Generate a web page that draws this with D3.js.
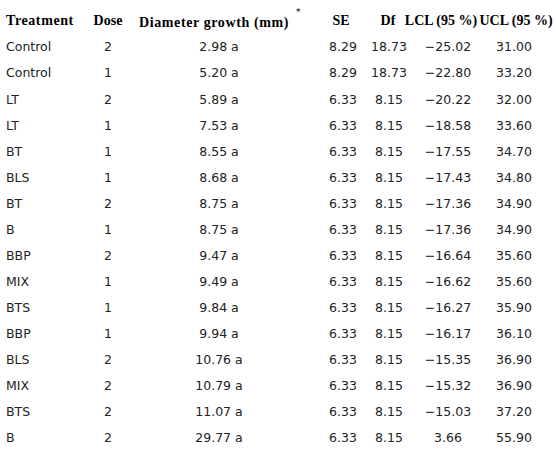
<!DOCTYPE html>
<html><head><meta charset="utf-8">
<script src="https://cdn.jsdelivr.net/npm/d3@7"></script>
<style>body{margin:0;background:#fff}</style>
</head><body>
<svg width="556" height="456"></svg>
<script>
'use strict';

const treatments = ["Control","Control","LT","LT","BT","BLS","BT","B","BBP","MIX","BTS","BBP","BLS","MIX","BTS","B"];
const doses = [2,1,2,1,1,1,2,1,2,1,1,1,2,2,2,2];
const growth = ["2.98","5.20","5.89","7.53","8.55","8.68","8.75","8.75","9.47","9.49","9.84","9.94","10.76","10.79","11.07","29.77"];
const groups = ["a","a","a","a","a","a","a","a","a","a","a","a","a","a","a","a"];
const se = ["8.29","8.29","6.33","6.33","6.33","6.33","6.33","6.33","6.33","6.33","6.33","6.33","6.33","6.33","6.33","6.33"];
const df = ["18.73","18.73","8.15","8.15","8.15","8.15","8.15","8.15","8.15","8.15","8.15","8.15","8.15","8.15","8.15","8.15"];
const lcl = ["\u221225.02","\u221222.80","\u221220.22","\u221218.58","\u221217.55","\u221217.43","\u221217.36","\u221217.36","\u221216.64","\u221216.62","\u221216.27","\u221216.17","\u221215.35","\u221215.32","\u221215.03","3.66"];
const ucl = ["31.00","33.20","32.00","33.60","34.70","34.80","34.90","34.90","35.60","35.60","35.90","36.10","36.90","36.90","37.20","55.90"];

const svg = d3.select('svg');
const y = d3.scaleLinear().domain([0, 15]).range([47, 438]);

const cols = [
  {head: "Treatment", hx: 6, x: 6, anchor: "start", get: i => treatments[i]},
  {head: "Dose", hx: 108, x: 108, anchor: "middle", get: i => doses[i]},
  {head: "Diameter growth (mm)", hx: 214, x: 219, anchor: "middle", get: i => growth[i] + " " + groups[i]},
  {head: "SE", hx: 341, x: 343, anchor: "middle", get: i => se[i]},
  {head: "Df", hx: 388, x: 389, anchor: "middle", get: i => df[i]},
  {head: "LCL (95 %)", hx: 441, x: 448, anchor: "middle", get: i => lcl[i]},
  {head: "UCL (95 %)", hx: 516, x: 514, anchor: "middle", get: i => ucl[i]}
];

cols.forEach(c => {
  svg.append('text')
    .attr('x', c.hx).attr('y', c.head === "Diameter growth (mm)" ? 27 : 25)
    .attr('text-anchor', c.anchor)
    .style('font-family', 'Liberation Serif').style('font-weight', 'bold')
    .style('font-size', '14px')
    .style('letter-spacing', c.head === "Treatment" || c.head === "Diameter growth (mm)" ? '0.6px' : '0px')
    .text(c.head);
  if (c.head === "Diameter growth (mm)") {
    svg.append('text').attr('x', 296).attr('y', 15)
      .style('font-family', 'DejaVu Serif').style('font-size', '9px').text('*');
  }
  svg.selectAll(null)
    .data(d3.range(treatments.length))
    .enter().append('text')
    .attr('x', c.x).attr('y', i => y(i))
    .attr('dy', '0.35em')
    .attr('text-anchor', c.anchor)
    .style('font-family', 'DejaVu Sans').style('font-size', '12.5px')
    .style('fill', '#222')
    .text(i => c.get(i));
});
</script>
</body></html>
